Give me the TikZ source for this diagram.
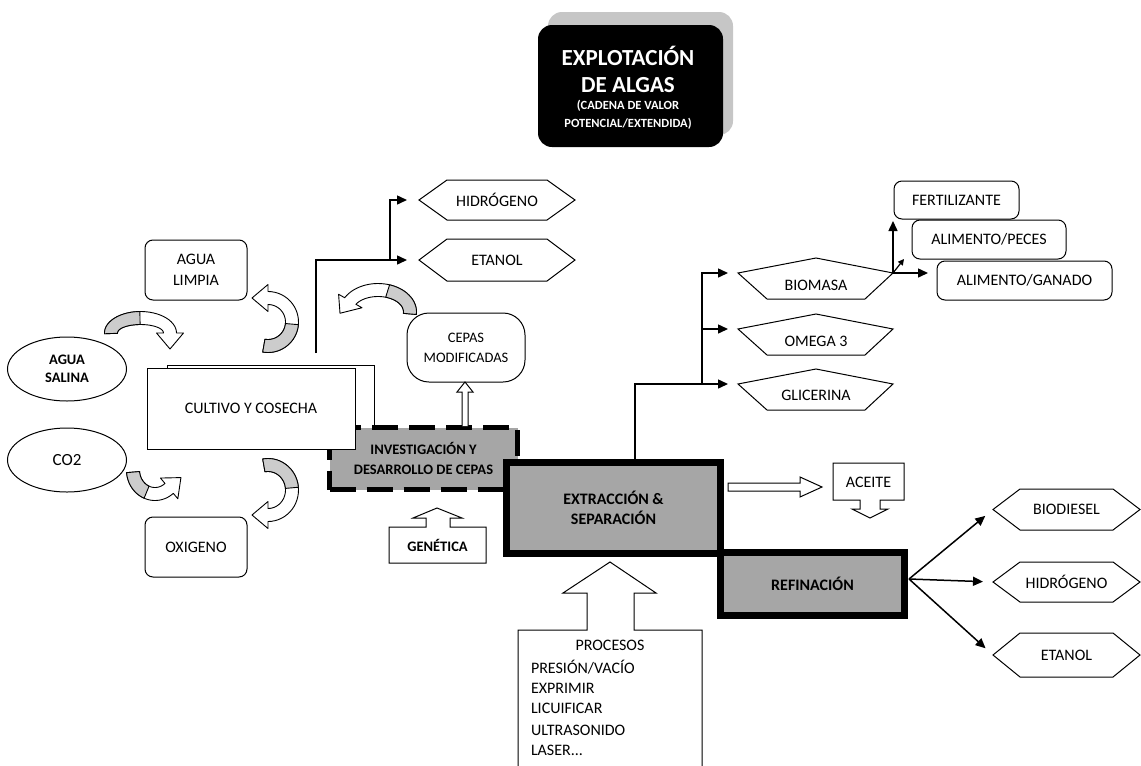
\documentclass[tikz,border=0pt]{standalone}
\usepackage{fontspec}
\setmainfont{Carlito}
\usetikzlibrary{arrows.meta,calc,shapes.geometric}
\definecolor{boxgray}{RGB}{166,166,166}
\definecolor{arrgray}{RGB}{204,204,204}
\newcommand\fsz[2]{\fontsize{#1}{#2}\selectfont}
% hexagon: name, cx, cy, w, h, inset, text
\newcommand\hexnode[7]{%
  \draw[shapeln] ({#2-#4/2},#3) -- ({#2-#4/2+#6},{#3-#5/2}) -- ({#2+#4/2-#6},{#3-#5/2}) -- ({#2+#4/2},#3) -- ({#2+#4/2-#6},{#3+#5/2}) -- ({#2-#4/2+#6},{#3+#5/2}) -- cycle;
  \node[lbl] (#1) at (#2,#3) {#7};
  \coordinate (#1-L) at ({#2-#4/2},#3);
}
% pentagon: name, cx, ytop, text, text y
\newcommand\pentnode[5]{%
  \draw[shapeln] (#2,#3) -- ({#2+77},{#3+15}) -- ({#2+49},{#3+41}) -- ({#2-49},{#3+41}) -- ({#2-78},{#3+15}) -- cycle;
  \node[lbl] (#1) at (#2,#5) {#4};
  \coordinate (#1-L) at ({#2-78},{#3+15});
  \coordinate (#1-R) at ({#2+77},{#3+15});
}
% curved block arrow: cx, cy, rx, ry, a1, a2
\newcommand\curvedarr[6]{%
  \pgfmathsetmacro\sg{(#6>#5)*2-1}%
  \pgfmathsetmacro\am{(#5+#6)/2}%
  \pgfmathsetmacro\tx{-(\sg)*(#3)*sin(#6)}%
  \pgfmathsetmacro\ty{(\sg)*(#4)*cos(#6)}%
  \pgfmathsetmacro\tn{sqrt((\tx)*(\tx)+(\ty)*(\ty))}%
  \pgfmathsetmacro\tipx{#1+(#3)*cos(#6)+16*(\tx)/(\tn)}%
  \pgfmathsetmacro\tipy{#2+(#4)*sin(#6)+16*(\ty)/(\tn)}%
  \filldraw[fill=white, line width=0.9pt, line join=round]
    plot[domain=#5:#6, samples=30] ({#1+(#3+6.5)*cos(\x)},{#2+(#4+6.5)*sin(\x)})
    -- ({#1+(#3+13.5)*cos(#6)},{#2+(#4+13.5)*sin(#6)})
    -- (\tipx,\tipy)
    -- ({#1+(#3-13.5)*cos(#6)},{#2+(#4-13.5)*sin(#6)})
    -- plot[domain=#6:#5, samples=30] ({#1+(#3-6.5)*cos(\x)},{#2+(#4-6.5)*sin(\x)})
    -- cycle;
  \filldraw[fill=arrgray, line width=0.9pt, line join=round]
    plot[domain=#5:\am, samples=20] ({#1+(#3+6.5)*cos(\x)},{#2+(#4+6.5)*sin(\x)})
    -- plot[domain=\am:#5, samples=20] ({#1+(#3-6.5)*cos(\x)},{#2+(#4-6.5)*sin(\x)})
    -- cycle;
}
\begin{document}
\begin{tikzpicture}[x=1pt,y=-1pt,
  every node/.style={inner sep=0pt, outer sep=0pt},
  lbl/.style={align=center, font=\fsz{16}{21}},
  rbox/.style={draw, line width=1pt, rounded corners=8pt, fill=white, align=center, font=\fsz{16}{21}},
  shapeln/.style={draw, line width=1pt, fill=white},
  conn/.style={line width=1.5pt, -{Triangle[length=10pt,width=9pt]}},
  heavy/.style={draw, line width=7pt, fill=boxgray, align=center, font=\bfseries\fsz{16}{20}},
  hollow/.style={draw, line width=1pt, fill=white, line join=miter},
]
\useasboundingbox (0,0) rectangle (1141,766);

% ---------- title ----------
\fill[gray!45, rounded corners=14pt] (548,12) rectangle (733,135);
\node[fill=black, rounded corners=14pt, minimum width=185pt, minimum height=122pt] (title) at (630.5,86) {};
\node[text=white, font=\bfseries\fsz{23}{26}] (t1) at (628,56) {EXPLOTACIÓN};
\node[text=white, font=\bfseries\fsz{23}{26}] (t2) at (628,85) {DE ALGAS};
\node[text=white, font=\bfseries\fsz{12.5}{16}] (t3) at (628,106) {(CADENA DE VALOR};
\node[text=white, font=\bfseries\fsz{12.5}{16}] (t4) at (628,124) {POTENCIAL/EXTENDIDA)};

% ---------- left inputs ----------
\node[rbox, minimum width=102pt, minimum height=60pt] (limpia) at (196,270) {AGUA\\LIMPIA};
\node[draw, ellipse, line width=1pt, fill=white, minimum width=119pt, minimum height=64pt, align=center, font=\bfseries\fsz{14.5}{18}] (salina) at (67,369) {AGUA\\SALINA};
\node[draw, ellipse, line width=1pt, fill=white, minimum width=119pt, minimum height=64pt, font=\fsz{17}{20}] (co2) at (67,460) {CO2};
\node[rbox, minimum width=102pt, minimum height=60pt] (oxig) at (196,547) {OXIGENO};

% curved block arrows
\curvedarr{140.5}{333}{29.5}{15}{178}{360}
\curvedarr{268}{322}{24}{24}{100}{-90}
\curvedarr{155}{470}{22}{24}{175}{50}
\curvedarr{268}{490}{24}{25}{-100}{90}
\curvedarr{378}{312}{32}{22}{5}{-150}

% ---------- cultivo / investigacion ----------
\node[draw, line width=1pt, fill=white, minimum width=207pt, minimum height=75pt] (cultb) at (270.5,402.5) {};
\node[draw, line width=5pt, dash pattern=on 26pt off 11pt, fill=boxgray, minimum width=188pt, minimum height=62pt, align=center, font=\bfseries\fsz{14.5}{20}] (inv) at (423.5,458.5) {INVESTIGACIÓN Y\\DESARROLLO DE CEPAS};
\node[draw, line width=1pt, fill=white, minimum width=208pt, minimum height=81pt, font=\fsz{16}{20}] (cult) at (251,408.5) {CULTIVO Y COSECHA};

% cepas modificadas
\node[rbox, rounded corners=22pt, minimum width=118pt, minimum height=69pt, font=\fsz{14.5}{20}] (cepas) at (466,347.5) {CEPAS\\MODIFICADAS};
\draw[hollow] (462,426) -- (462,392) -- (457,392) -- (465,382) -- (473,392) -- (468,392) -- (468,426);

% genetica callout
\draw[hollow] (389,563) -- (389,527) -- (426,527) -- (426,518) -- (413,518) -- (437,508) -- (462,518) -- (450,518) -- (450,527) -- (486,527) -- (486,563) -- cycle;
\node[font=\bfseries\fsz{14.5}{18}] (gen) at (437.5,545) {GENÉTICA};

% hexagons top
\hexnode{hid1}{497}{200}{156}{40}{28}{HIDRÓGENO}
\hexnode{eta1}{497}{260}{156}{42}{28}{ETANOL}
\coordinate (cup) at (316,353);
\coordinate (br1) at (390,260);
\draw[conn, shorten >=12pt] (cup) |- (eta1-L);
\draw[conn, shorten >=12pt] (br1) |- (hid1-L);

% ---------- extraccion / refinacion ----------
\node[heavy, minimum width=214pt, minimum height=91pt] (extr) at (613.5,508) {EXTRACCIÓN \&\\SEPARACIÓN};
\node[heavy, minimum width=184pt, minimum height=63pt] (ref) at (812.5,584) {REFINACIÓN};

% pentagons
\pentnode{bio}{816}{258}{BIOMASA}{285}
\pentnode{ome}{816}{314}{OMEGA 3}{341}
\pentnode{gli}{816}{369}{GLICERINA}{395}
\coordinate (exu) at (635,459);
\coordinate (br2) at (702,384);
\draw[conn, shorten >=10pt] (exu) |- (gli-L);
\draw[conn, shorten >=10pt] (br2) |- (bio-L);
\draw[conn, shorten >=10pt] (br2 |- ome-L) -- (ome-L);

% biomasa outputs
\node[rbox, minimum width=125pt, minimum height=38pt] (fer) at (956.5,200) {FERTILIZANTE};
\node[rbox, minimum width=154pt, minimum height=39pt] (pec) at (989,239.5) {ALIMENTO/PECES};
\node[rbox, minimum width=175pt, minimum height=39pt] (gan) at (1024.5,280.5) {ALIMENTO/GANADO};
\draw[conn, shorten >=2pt] (bio-R) -- (bio-R |- fer.south);
\draw[conn, shorten >=9pt] (bio-R) -- (bio-R -| gan.west);
\draw[line width=1.2pt, -{Triangle[length=6pt,width=6pt]}] (bio-R) -- ++(11,-14);

% aceite
\draw[hollow] (728,483) -- (800,483) -- (800,477) -- (822,487) -- (800,497) -- (800,491) -- (728,491) -- cycle;
\draw[hollow] (833,463) -- (904,463) -- (904,500) -- (880,500) -- (880,509) -- (888,509) -- (870,518) -- (852,509) -- (860,509) -- (860,500) -- (833,500) -- cycle;
\node[lbl] (acei) at (868.5,482) {ACEITE};

% refinacion outputs
\hexnode{biod}{1066.5}{509.5}{147}{41}{27}{BIODIESEL}
\hexnode{hid2}{1066.5}{582}{147}{40}{27}{HIDRÓGENO}
\hexnode{eta2}{1066.5}{655}{147}{44}{27}{ETANOL}
\coordinate (rout) at (909,579);
\draw[conn, shorten >=10pt] (rout) -- (biod-L);
\draw[conn, shorten >=10pt] (rout) -- (hid2-L);
\draw[conn, shorten >=10pt] (rout) -- (eta2-L);

% procesos callout
\draw[hollow] (518,772) -- (518,630) -- (587,630) -- (587,593) -- (563,593) -- (610,562) -- (656,593) -- (634,593) -- (634,630) -- (702,630) -- (702,772);
\node[lbl] (proc) at (610,645) {PROCESOS};
\node[lbl, anchor=west] (p1) at (531,667) {PRESIÓN/VACÍO};
\node[lbl, anchor=west] (p2) at (531,688) {EXPRIMIR};
\node[lbl, anchor=west] (p3) at (531,708) {LICUIFICAR};
\node[lbl, anchor=west] (p4) at (531,730) {ULTRASONIDO};
\node[lbl, anchor=west] (p5) at (531,750) {LASER...};
\end{tikzpicture}
\end{document}
